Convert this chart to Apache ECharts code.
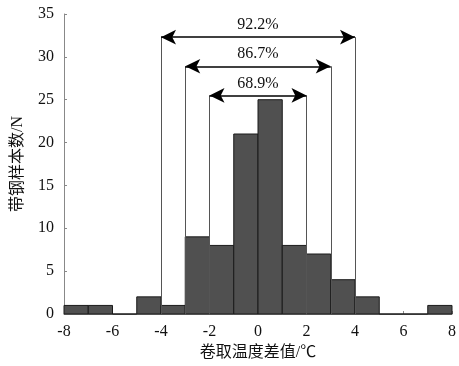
<!DOCTYPE html>
<html>
<head>
<meta charset="utf-8">
<script src="https://cdn.jsdelivr.net/npm/echarts@6/dist/echarts.min.js"></script>
<style>
html,body{margin:0;padding:0;background:#fff;}
#chart{width:459px;height:366px;}
</style>
</head>
<body>
<div id="chart"></div>
<script>
// 直方图区间起点(宽度1)与带钢数量
var binStarts = [-8, -7, -6, -5, -4, -3, -2, -1, 0, 1, 2, 3, 4, 5, 6, 7];
var counts    = [ 1,  1,  0,  2,  1,  9,  8, 21, 25, 8, 7, 4, 2, 0, 0, 1];
// 区间标注
var bracketLabels = ['92.2%', '86.7%', '68.9%'];
var bracketHalf   = [4, 3, 2];
var bracketLevel  = [32.3, 28.9, 25.5];

var font = 'Liberation Serif, Noto Sans CJK SC';

var barData = [];
for (var i = 0; i < binStarts.length; i++) {
	barData.push([binStarts[i], binStarts[i] + 1, counts[i]]);
}

var vLines = [];
var arrows = [];
for (var k = 0; k < bracketLabels.length; k++) {
	vLines.push([{coord: [-bracketHalf[k], bracketLevel[k]]}, {coord: [-bracketHalf[k], 0]}]);
	vLines.push([{coord: [bracketHalf[k], bracketLevel[k]]}, {coord: [bracketHalf[k], 0]}]);
	arrows.push([
		{coord: [-bracketHalf[k], bracketLevel[k]], label: {formatter: bracketLabels[k]}},
		{coord: [bracketHalf[k], bracketLevel[k]]}
	]);
}

var myChart = echarts.init(document.getElementById('chart'));
var option = {
	backgroundColor: '#fff',
	animation: false,
	grid: {left: 64, right: 6, top: 14, bottom: 52},
	xAxis: {
		type: 'value',
		min: -8, max: 8, interval: 2,
		name: '卷取温度差值/℃',
		nameLocation: 'middle',
		nameGap: 28,
		nameTextStyle: {fontFamily: font, fontSize: 16, color: '#111'},
		axisLine: {show: true, onZero: false, lineStyle: {color: '#888', width: 1}},
		axisTick: {show: true, inside: true, length: 3, lineStyle: {color: '#888'}},
		axisLabel: {fontFamily: font, fontSize: 16, color: '#111', margin: 10},
		splitLine: {show: false}
	},
	yAxis: {
		type: 'value',
		min: 0, max: 35, interval: 5,
		name: '带钢样本数/N',
		nameLocation: 'middle',
		nameGap: 38,
		nameRotate: 90,
		nameTextStyle: {fontFamily: font, fontSize: 16, color: '#111'},
		axisLine: {show: true, onZero: false, lineStyle: {color: '#888', width: 1}},
		axisTick: {show: true, inside: true, length: 3, lineStyle: {color: '#888'}},
		axisLabel: {fontFamily: font, fontSize: 16, color: '#111', margin: 10},
		splitLine: {show: false}
	},
	series: [
		{
			type: 'line',
			data: [],
			z: 1,
			markLine: {
				silent: true,
				symbol: ['none', 'none'],
				label: {show: false},
				lineStyle: {color: '#555', width: 1, type: 'solid'},
				data: vLines
			}
		},
		{
			type: 'custom',
			z: 2,
			renderItem: function (params, api) {
				var p0 = api.coord([api.value(0), api.value(2)]);
				var p1 = api.coord([api.value(1), 0]);
				return {
					type: 'rect',
					shape: {x: p0[0], y: p0[1], width: p1[0] - p0[0], height: p1[1] - p0[1]},
					style: {fill: '#505050', stroke: '#1a1a1a', lineWidth: 1}
				};
			},
			encode: {x: [0, 1], y: 2},
			data: barData
		},
		{
			type: 'line',
			data: [],
			z: 3,
			markLine: {
				silent: true,
				symbol: ['arrow', 'arrow'],
				symbolSize: [11, 15],
				label: {
					show: true,
					position: 'middle',
					distance: 4,
					fontFamily: font,
					fontSize: 16,
					color: '#111'
				},
				lineStyle: {color: '#000', width: 1.5, type: 'solid'},
				data: arrows
			}
		}
	]
};
myChart.setOption(option);
</script>
</body>
</html>
